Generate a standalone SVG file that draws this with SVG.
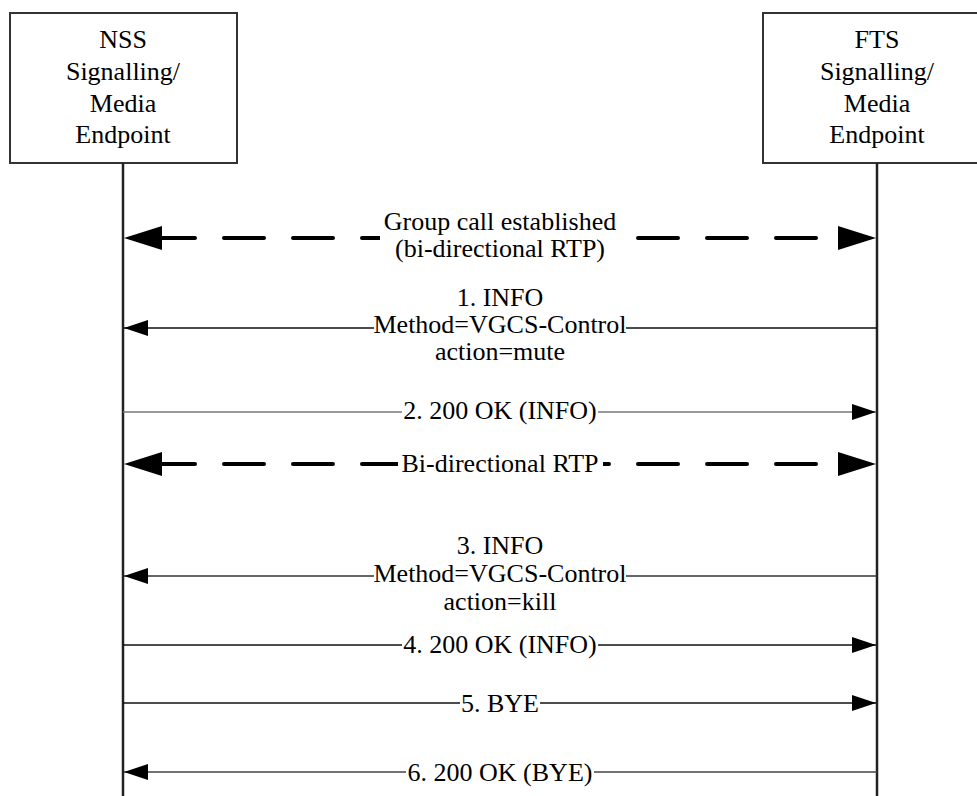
<svg xmlns="http://www.w3.org/2000/svg" width="977" height="796" viewBox="0 0 977 796">
<style>
  text { font-family: "Liberation Serif", "Times New Roman", serif; font-size: 26px; fill: #000; text-anchor: middle; }
  .box { fill: #fff; stroke: #333; stroke-width: 2; }
  .life { stroke: #222; stroke-width: 2.5; fill: none; }
  .msg { stroke-width: 1.6; fill: none; }
  .dash { stroke: #000; stroke-width: 4; stroke-dasharray: 40 29; stroke-linecap: round; fill: none; }
  .bg { fill: #fff; }
  .head { fill: #000; }
</style>
<defs>
  <marker id="ah" markerUnits="userSpaceOnUse" markerWidth="24" markerHeight="16" refX="24" refY="8" orient="auto">
    <path d="M0,0 L24,8 L0,16 z" fill="#000"/>
  </marker>
</defs>
<rect width="977" height="796" fill="#fff"/>

<g id="nss">
  <rect class="box" x="10" y="13" width="227" height="150"/>
  <text x="123" y="48">NSS</text>
  <text x="123" y="80">Signalling/</text>
  <text x="123" y="112">Media</text>
  <text x="123" y="143">Endpoint</text>
  <line class="life" x1="123" y1="163" x2="123" y2="796"/>
</g>

<g id="fts">
  <rect class="box" x="763" y="13" width="228" height="150"/>
  <text x="877" y="48">FTS</text>
  <text x="877" y="80">Signalling/</text>
  <text x="877" y="112">Media</text>
  <text x="877" y="143">Endpoint</text>
  <line class="life" x1="877" y1="163" x2="877" y2="796"/>
</g>

<g id="connectors">
  <!-- Group call established (bi-directional) -->
  <line class="dash" x1="155" y1="238" x2="822" y2="238"/>
  <polygon class="head" points="124,238 162,226 162,250"/>
  <polygon class="head" points="876,238 838,226 838,250"/>
  <rect class="bg" x="380" y="228" width="240" height="20"/>
  <text x="500" y="230">Group call established</text>
  <text x="500" y="257">(bi-directional RTP)</text>

  <!-- 1. INFO -->
  <line class="msg" stroke="#111" x1="877" y1="328" x2="124" y2="328" marker-end="url(#ah)"/>
  <rect class="bg" x="374" y="320" width="252" height="16"/>
  <text x="500" y="306">1. INFO</text>
  <text x="500" y="333">Method=VGCS-Control</text>
  <text x="500" y="360">action=mute</text>

  <!-- 2. 200 OK (INFO) -->
  <line class="msg" stroke="#777" x1="123" y1="412" x2="876" y2="412" marker-end="url(#ah)"/>
  <rect class="bg" x="402" y="404" width="196" height="16"/>
  <text x="500" y="419">2. 200 OK (INFO)</text>

  <!-- Bi-directional RTP -->
  <line class="dash" x1="155" y1="464" x2="822" y2="464"/>
  <polygon class="head" points="124,464 162,452 162,476"/>
  <polygon class="head" points="876,464 838,452 838,476"/>
  <rect class="bg" x="398" y="454" width="205" height="20"/>
  <text x="500" y="472">Bi-directional RTP</text>

  <!-- 3. INFO -->
  <line class="msg" stroke="#333" x1="877" y1="576" x2="124" y2="576" marker-end="url(#ah)"/>
  <rect class="bg" x="374" y="568" width="252" height="16"/>
  <text x="500" y="554">3. INFO</text>
  <text x="500" y="582">Method=VGCS-Control</text>
  <text x="500" y="610">action=kill</text>

  <!-- 4. 200 OK (INFO) -->
  <line class="msg" stroke="#111" x1="123" y1="645" x2="876" y2="645" marker-end="url(#ah)"/>
  <rect class="bg" x="402" y="637" width="196" height="16"/>
  <text x="500" y="653">4. 200 OK (INFO)</text>

  <!-- 5. BYE -->
  <line class="msg" stroke="#111" x1="123" y1="703" x2="876" y2="703" marker-end="url(#ah)"/>
  <rect class="bg" x="460" y="695" width="80" height="16"/>
  <text x="500" y="712">5. BYE</text>

  <!-- 6. 200 OK (BYE) -->
  <line class="msg" stroke="#444" x1="877" y1="772" x2="124" y2="772" marker-end="url(#ah)"/>
  <rect class="bg" x="406" y="764" width="188" height="16"/>
  <text x="500" y="781">6. 200 OK (BYE)</text>
</g>
</svg>
